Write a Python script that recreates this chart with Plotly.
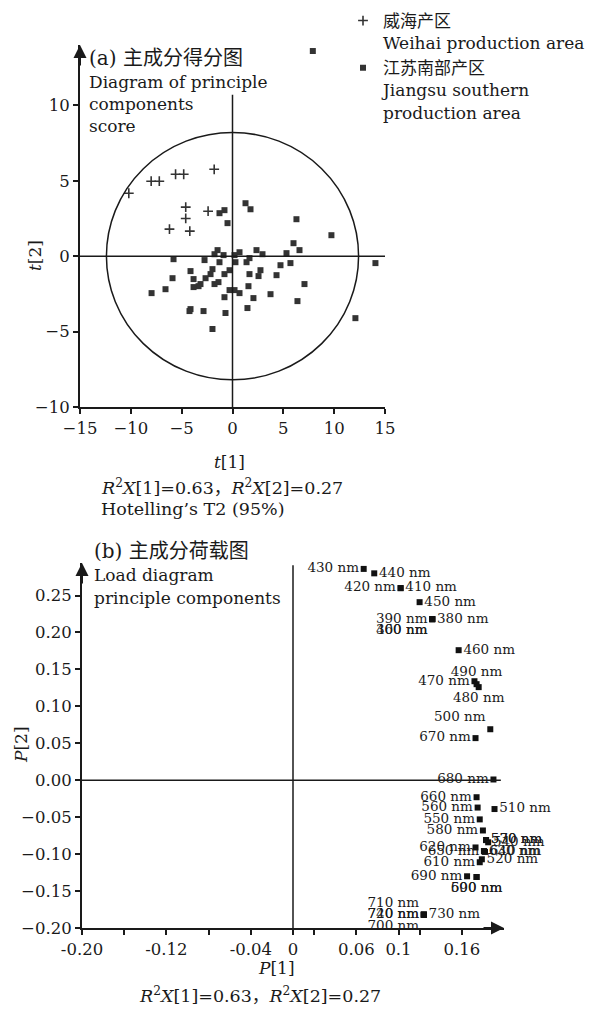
import plotly.graph_objects as go

# ---------------- data: (a) score plot ----------------
weihai_t1 = [-10.2, -8.0, -7.2, -5.6, -4.8, -1.8, -4.6, -4.6, -2.4, -6.2, -4.2]
weihai_t2 = [4.17, 4.97, 4.97, 5.43, 5.43, 5.76, 3.25, 2.50, 2.98, 1.79, 1.66]

jiangsu_t1 = [7.9, -1.28, -0.79, 1.28, 1.77, -0.49, 6.29, 9.73, 6.0, 6.59, 2.36, 2.95, 5.31,
              5.70, 4.72, 0.69, -1.47, -1.77, -0.88, 0.2, -5.80, -2.75, -1.28, 0.29, 1.38,
              1.67, 14.06, -4.13, -1.97, 2.75, -0.29, -0.79, -2.16, 1.67, 2.56, 4.33, -5.9,
              -3.83, -2.65, -1.38, -1.77, -3.15, -3.34, -3.83, 1.57, 7.08, -7.96, -6.59,
              -0.29, 0.2, 0.69, 3.74, -0.79, 2.06, 6.39, 1.47, -4.13, -4.23, -2.85, -0.69,
              12.09, -1.97]
jiangsu_t2 = [13.6, 2.85, 3.05, 3.51, 3.11, 2.19, 2.45, 1.39, 0.86, 0.40, 0.40, 0.13, 0.20,
              -0.46, -0.60, 0.26, 0.40, 0.13, 0.07, 0.07, -0.20, -0.26, -0.40, -0.40, -0.40,
              -0.13, -0.46, -0.99, -0.86, -0.93, -0.93, -1.19, -1.19, -1.19, -1.32, -1.26,
              -1.46, -1.52, -1.46, -1.72, -1.85, -1.85, -1.99, -2.05, -1.99, -1.85, -2.45,
              -2.19, -2.25, -2.25, -2.45, -2.52, -2.72, -2.78, -2.98, -3.44, -3.51, -3.64,
              -3.64, -3.77, -4.11, -4.83]

hotelling_a = 12.4   # T2 (95%) ellipse half-width along t[1]
hotelling_b = 8.2    # T2 (95%) ellipse half-height along t[2]

score_xticks = [-15, -10, -5, 0, 5, 10, 15]
score_yticks = [-10, -5, 0, 5, 10]

# ---------------- data: (b) loading plot ----------------
wavelengths = [360, 380, 390, 400, 410, 420, 430, 440, 450, 460, 470, 480, 490, 500,
               510, 520, 530, 540, 550, 560, 570, 580, 590, 600, 610, 620, 630, 640,
               650, 660, 670, 680, 690, 700, 710, 720, 730, 740]
p1 = [0.132, 0.132, 0.132, 0.132, 0.102, 0.102, 0.067, 0.077, 0.120, 0.157, 0.172, 0.176,
      0.174, 0.187, 0.191, 0.179, 0.183, 0.185, 0.177, 0.175, 0.183, 0.180, 0.174, 0.174,
      0.177, 0.173, 0.181, 0.182, 0.181, 0.174, 0.173, 0.190, 0.165, 0.124, 0.124, 0.124,
      0.124, 0.124]
p2 = [0.218, 0.218, 0.218, 0.218, 0.260, 0.260, 0.286, 0.280, 0.241, 0.176, 0.134, 0.126,
      0.130, 0.069, -0.039, -0.107, -0.081, -0.084, -0.053, -0.037, -0.081, -0.068, -0.131,
      -0.131, -0.111, -0.091, -0.096, -0.097, -0.096, -0.023, 0.057, 0.001, -0.130, -0.182,
      -0.182, -0.182, -0.182, -0.182]

load_xticks = [-0.20, -0.16, -0.12, -0.08, -0.04, 0, 0.02, 0.06, 0.10, 0.12, 0.16]
load_xticktext = ["-0.20", "", "-0.12", "", "-0.04", "0", "", "0.06", "0.1", "", "0.16"]
load_yticks = [-0.20, -0.15, -0.10, -0.05, 0.00, 0.05, 0.10, 0.15, 0.20, 0.25]

# label placement (style)
label_side = {
    360: "bottom left", 380: "middle right", 390: "middle left", 400: "bottom left",
    410: "middle right", 420: "middle left", 430: "middle left", 440: "middle right",
    450: "middle right", 460: "middle right", 470: "middle left", 480: "bottom center",
    490: "top center", 500: "top left", 510: "middle right", 520: "middle right",
    530: "middle right", 540: "middle right", 550: "middle left", 560: "middle left",
    570: "middle right", 580: "middle left", 590: "bottom center", 600: "bottom center",
    610: "middle left", 620: "middle left", 630: "middle right", 640: "middle right",
    650: "middle left", 660: "middle left", 670: "middle left", 680: "middle left",
    690: "middle left", 700: "bottom left", 710: "top left", 720: "middle left",
    730: "middle right", 740: "middle left",
}

W, H = 591, 1014
SERIF = "'DejaVu Serif', 'Noto Sans CJK SC', serif"
INK = "#1a1a1a"

fig = go.Figure()

fig.add_trace(go.Scatter(
    x=weihai_t1, y=weihai_t2, mode="markers", xaxis="x", yaxis="y",
    name="威海产区<br>Weihai production area",
    marker=dict(symbol="cross-thin", size=7, color="#333333",
                line=dict(width=1.6, color="#333333")),
))
fig.add_trace(go.Scatter(
    x=jiangsu_t1, y=jiangsu_t2, mode="markers", xaxis="x", yaxis="y",
    name="江苏南部产区<br>Jiangsu southern<br>production area",
    marker=dict(symbol="square", size=6, color="#333333", line=dict(width=0)),
))
fig.add_trace(go.Scatter(
    x=p1, y=p2, mode="markers+text", xaxis="x2", yaxis="y2", showlegend=False,
    cliponaxis=False,
    text=[f"{w} nm" for w in wavelengths],
    textposition=[label_side[w] for w in wavelengths],
    textfont=dict(family=SERIF, size=13.5, color=INK),
    marker=dict(symbol="square", size=6, color="#111111"),
))

# Hotelling T2 ellipse
fig.add_shape(type="circle", xref="x", yref="y",
              x0=-hotelling_a, x1=hotelling_a, y0=-hotelling_b, y1=hotelling_b,
              line=dict(color=INK, width=1.5))
# cross lines through origin
fig.add_shape(type="line", xref="x", yref="y", x0=0, x1=0, y0=-10, y1=10.7,
              line=dict(color=INK, width=1.5))
fig.add_shape(type="line", xref="x", yref="y", x0=-15, x1=15, y0=0, y1=0,
              line=dict(color=INK, width=1.5))
fig.add_shape(type="line", xref="x2", yref="y2", x0=0, x1=0, y0=-0.2, y1=0.291,
              line=dict(color=INK, width=1.5))
fig.add_shape(type="line", xref="x2", yref="y2", x0=-0.2, x1=0.197, y0=0, y1=0,
              line=dict(color=INK, width=1.5))

ax_common = dict(showgrid=False, zeroline=False, showline=True, linecolor=INK, linewidth=2,
                 ticks="outside", ticklen=5, tickwidth=1.5, tickcolor=INK, automargin=False,
                 tickfont=dict(family=SERIF, size=16.5, color=INK))

fig.update_layout(
    width=W, height=H, margin=dict(l=0, r=0, t=0, b=0, autoexpand=False),
    paper_bgcolor="white", plot_bgcolor="white",
    font=dict(family=SERIF, color=INK),
    xaxis=dict(domain=[80 / W, 385 / W], range=[-15, 15], anchor="y",
               tickvals=score_xticks, **ax_common),
    yaxis=dict(domain=[1 - 407 / H, 1 - 45 / H], range=[-10, 14], anchor="x",
               tickvals=score_yticks, **ax_common),
    xaxis2=dict(domain=[82 / W, 504 / W], range=[-0.2, 0.2], anchor="y2",
                tickvals=load_xticks, ticktext=load_xticktext, **ax_common),
    yaxis2=dict(domain=[1 - 928 / H, 1 - 563 / H], range=[-0.2, 0.294], anchor="x2",
                tickvals=load_yticks, tickformat=".2f", **ax_common),
    legend=dict(x=343 / W, y=1 - 3 / H, xanchor="left", yanchor="top",
                font=dict(family=SERIF, size=17, color=INK), valign="top",
                bgcolor="rgba(0,0,0,0)", tracegroupgap=5, itemsizing="trace"),
)

# axis arrowheads
arrow = dict(text="", showarrow=True, arrowhead=2, arrowsize=1.3, arrowwidth=2,
             arrowcolor=INK)
fig.add_annotation(xref="x", yref="y", x=-15, y=14, ax=0, ay=22, **arrow)
fig.add_annotation(xref="x2", yref="y2", x=-0.2, y=0.294, ax=0, ay=22, **arrow)
fig.add_annotation(xref="x2", yref="y2", x=0.2, y=-0.2, ax=-22, ay=0, **arrow)


def note(text, xp, yp, size=16, xanchor="left", angle=0):
    fig.add_annotation(text=text, xref="paper", yref="paper", x=xp / W, y=1 - yp / H,
                       xanchor=xanchor, yanchor="middle", showarrow=False,
                       textangle=angle, font=dict(family=SERIF, size=size, color=INK))


R2 = "<i>R</i><sup>2</sup><i>X</i>[1]=0.63，<i>R</i><sup>2</sup><i>X</i>[2]=0.27"

# panel (a) texts
note("(a) 主成分得分图", 87, 58, 20)
note("Diagram of principle", 87, 82, 17)
note("components", 87, 104, 17)
note("score", 87, 126, 17)
note("<i>t</i>[2]", 35, 256, 17, "center", -90)
note("<i>t</i>[1]", 229, 462, 17, "center")
note(R2, 99, 487, 17.5)
note("Hotelling’s T2 (95%)", 99, 509, 17.5)

# panel (b) texts
note("(b) 主成分荷载图", 92, 551, 20)
note("Load diagram", 92, 575, 17)
note("principle components", 92, 598, 17)
note("<i>P</i>[2]", 21, 745, 17, "center", -90)
note("<i>P</i>[1]", 276, 968, 17, "center")
note(R2, 137, 995, 17.5)

fig.write_html("out.html")
